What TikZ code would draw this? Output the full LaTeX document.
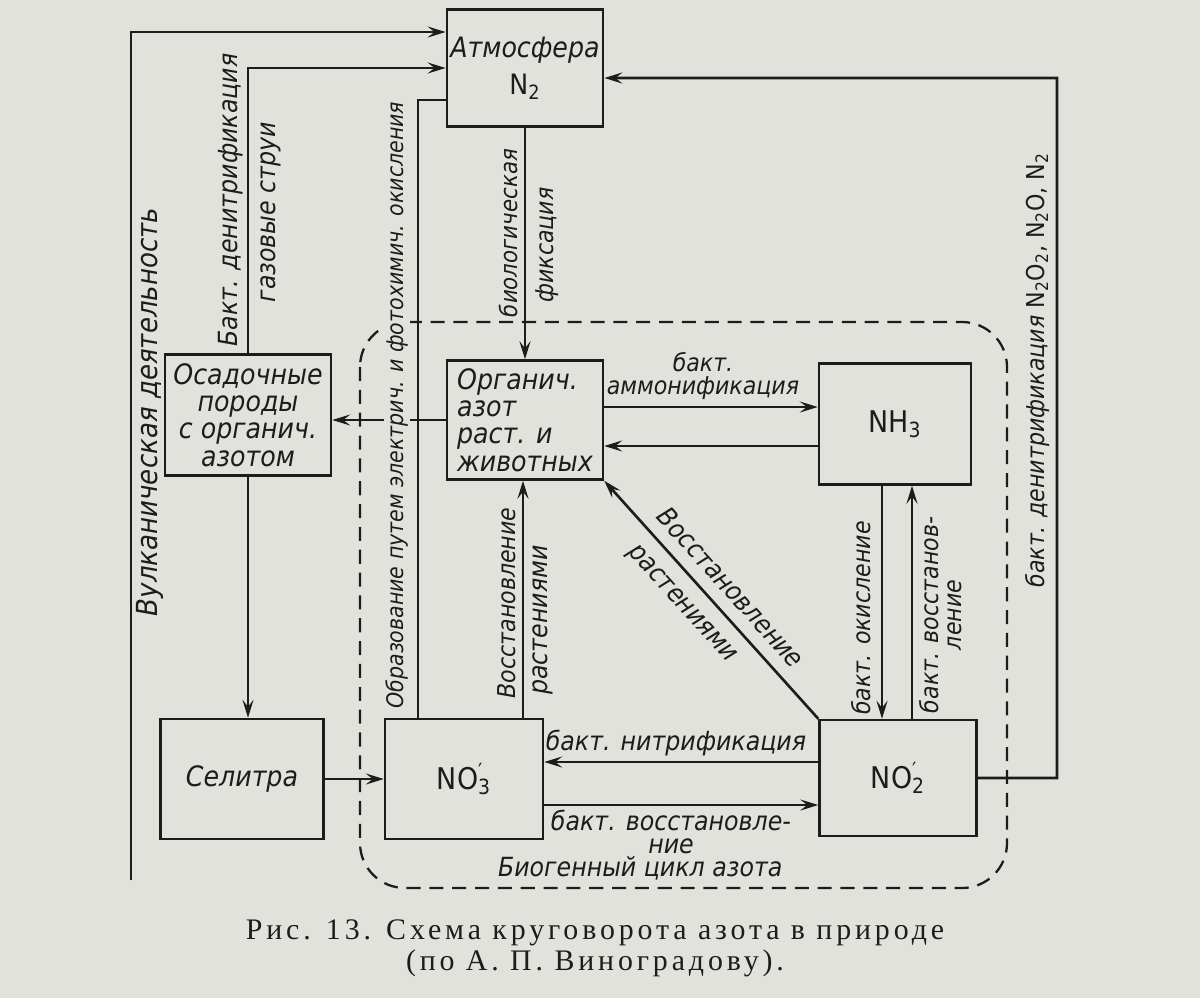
\documentclass[tikz,border=0pt]{standalone}
\usepackage{fontspec}
\setmainfont{Liberation Serif}
\newfontfamily\handit{DejaVu Sans Condensed Oblique}
\newfontfamily\handup{DejaVu Sans Condensed}
\newfontfamily\capfont{Liberation Serif}[LetterSpace=13]
\usetikzlibrary{arrows.meta}
\definecolor{paper}{RGB}{226,226,221}
\definecolor{ink}{RGB}{28,28,28}
\begin{document}
\begin{tikzpicture}[x=0.02cm, y=-0.02cm, color=ink, line width=1.5pt,
  box/.style={draw, line width=1.4pt, minimum width=3.12cm, minimum height=2.4cm,
    inner sep=2pt, align=center, font=\handit\fontsize{16}{15.5}\selectfont},
  chem/.style={font=\handup\fontsize{17}{17}\selectfont},
  lbl/.style={font=\handit\fontsize{15}{13}\selectfont, inner sep=1pt},
  small/.style={font=\handit\fontsize{14}{13}\selectfont},
  vlbl/.style={lbl, rotate=90},
  arr/.style={-{Stealth[length=3.6mm, width=2.2mm, inset=1.4mm]}},
  biocycle/.style={dash pattern=on 8pt off 5pt, line width=1.3pt, rounded corners=0.9cm}]
  % фон
  \fill[paper] (0,0) rectangle (1200,998);
  \useasboundingbox (0,0) rectangle (1200,998);
  % биогенный цикл
  \draw[biocycle] (360,322) rectangle (1007,888);
  % блоки
  \node[box, minimum height=2.34cm] (atm) at (525,68)
    {Атмосфера\\[6pt]{\handup N\textsubscript{2}}};
  \node[box, minimum width=3.32cm, minimum height=2.42cm] (osad) at (248,415)
    {Осадочные\\породы\\с органич.\\азотом};
  \node[box, align=left, minimum height=2.38cm] (org) at (525,420)
    {Органич.\\азот\\раст. и\\животных};
  \node[box, chem, minimum width=3.04cm, minimum height=2.42cm] (nh3) at (895,424)
    {NH\textsubscript{3}};
  \node[box, minimum width=3.26cm] (sel) at (242,779) {Селитра};
  \node[box, chem, minimum width=3.16cm] (no3) at (464,779)
    {NO\rlap{\textsuperscript{′}}\textsubscript{3}};
  \node[box, chem, minimum width=3.14cm, minimum height=2.32cm] (no2) at (898,778)
    {NO\rlap{\textsuperscript{′}}\textsubscript{2}};
  % связи с атмосферой
  \coordinate (volc) at (131,880);
  \coordinate (dn) at (1057,78);
  \draw[arr] (volc) |- ([yshift=0.72cm]atm.west);
  \draw[arr] (osad.north) |- (atm.west);
  \draw ([xshift=-0.92cm]no3.north) |- ([yshift=-0.64cm]atm.west);
  \draw[arr] (atm.south) -- (org.north);
  \draw[arr] (no2.east) -| (dn) -- ([yshift=-0.2cm]atm.east);
  % левая часть
  \draw[arr] (org.west) -- (org.west -| osad.east);
  \draw[arr] (osad.south) -- (osad.south |- sel.north);
  \draw[arr] (sel.east) -- (no3.west);
  % внутри цикла
  \draw[arr] ([yshift=0.26cm]org.east) -- ([yshift=0.26cm]org.east -| nh3.west);
  \draw[arr] ([yshift=-0.52cm]org.east -| nh3.west) -- ([yshift=-0.52cm]org.east);
  \draw[arr] ([xshift=1.18cm]no3.north) -- ([xshift=1.18cm]no3.north |- org.south);
  \draw[arr] (no2.north west) -- (org.south east);
  \draw[arr] ([xshift=-0.26cm]nh3.south) -- ([xshift=-0.26cm]nh3.south |- no2.north);
  \draw[arr] ([xshift=0.34cm]nh3.south |- no2.north) -- ([xshift=0.34cm]nh3.south);
  \draw[arr] ([yshift=0.32cm]no2.west) -- ([yshift=0.32cm]no2.west -| no3.east);
  \draw[arr] ([yshift=-0.52cm]no3.east) -- ([yshift=-0.52cm]no3.east -| no2.west);
  % подписи
  \node[vlbl, font=\handit\fontsize{16.5}{13}\selectfont] (volclbl) at (150,412)
    {Вулканическая деятельность};
  \node[vlbl] (denlbl) at (231,200) {Бакт. денитрификация};
  \node[vlbl] (gaslbl) at (271,212) {газовые струи};
  \node[vlbl, fill=paper, font=\handit\fontsize{13}{13}\selectfont] (oxlbl) at (397,405)
    {Образование путем электрич. и фотохимич. окисления};
  \node[vlbl, font=\handit\fontsize{13.5}{13}\selectfont] (biolbl) at (508,233) {биологическая};
  \node[vlbl, small] (fixlbl) at (547,245) {фиксация};
  \node[vlbl, small] (redlbl) at (507,603) {Восстановление};
  \node[vlbl] (plantlbl) at (543,620) {растениями};
  \node[lbl, small, align=center] (ammlbl) at (703,376) {бакт.\\аммонификация};
  \node[lbl, rotate=-48, align=center] (dredlbl) at (713,604)
    {Восстановление\\[12pt]растениями\hspace*{24pt}};
  \node[vlbl, small] (oxnlbl) at (861,618) {бакт. окисление};
  \node[vlbl, small, align=center] (rednlbl) at (941,615) {бакт. восстанов-\\ление};
  \node[vlbl, font=\handit\fontsize{14}{13}\selectfont] (rdenlbl) at (1037,370)
    {бакт. денитрификация {\handup N\textsubscript{2}O\textsubscript{2}, N\textsubscript{2}O, N\textsubscript{2}}};
  \node[lbl] (nitlbl) at (676,743) {бакт. нитрификация};
  \node[lbl, align=center] (red3lbl) at (671,845)
    {бакт. восстановле-\\ние\hspace*{22pt}\\Биогенный цикл азота\hspace*{35pt}};
  % подпись к рисунку
  \node[font=\capfont\fontsize{17}{20}\selectfont] (cap1) at (595,933)
    {Рис. 13. Схема круговорота азота в природе};
  \node[font=\capfont\fontsize{17}{20}\selectfont] (cap2) at (595,963)
    {(по А. П. Виноградову).};
\end{tikzpicture}
\end{document}
